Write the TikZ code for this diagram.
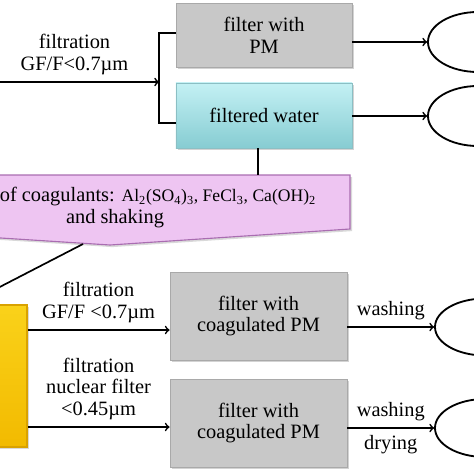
\documentclass[tikz,border=0pt]{standalone}
\usepackage{fontspec}
\setmainfont{Liberation Serif}
\usetikzlibrary{shapes.geometric,shadows}
\definecolor{pmgray}{HTML}{C8C8C8}
\definecolor{pmedge}{HTML}{A9A9A9}
\definecolor{watertop}{HTML}{C4F1F4}
\definecolor{waterbot}{HTML}{86CCD2}
\definecolor{wateredge}{HTML}{8BBFC4}
\definecolor{coagfill}{HTML}{EEC5F2}
\definecolor{coagedge}{HTML}{A96DB1}
\definecolor{goldtop}{HTML}{FAD21A}
\definecolor{goldbot}{HTML}{F2BA00}
\definecolor{goldedge}{HTML}{D9A200}
\newcommand{\chemfont}{\fontsize{12.5}{15}\selectfont}
\begin{document}
\begin{tikzpicture}[x=0.025cm, y=-0.025cm, line width=1.2pt,
    every node/.style={font=\fontsize{14.5}{15.5}\selectfont, align=center},
    pmbox/.style={draw=pmedge, line width=0.6pt, fill=pmgray, inner sep=0pt,
      minimum width=4.4cm, drop shadow={opacity=0.35, shadow xshift=1.5pt, shadow yshift=-1.5pt}},
    result/.style={ellipse, draw, line width=1.3pt, minimum width=2.5cm, inner sep=0pt}]
    \useasboundingbox (0,0) rectangle (474,474);
    \clip (0,0) rectangle (474,474);

    % first filtration: filter and filtered water
    \node[pmbox, minimum height=1.6cm] (pm) at (264,35) {filter with\\PM};
    \node[pmbox, minimum height=1.625cm, draw=wateredge, top color=watertop, bottom color=waterbot] (water) at (264,115.5) {filtered water};
    \node[result, minimum height=1.5cm] (ell1) at (478,42) {};
    \node[result, minimum height=1.5cm] (ell2) at (478,116) {};

    \coordinate (sample) at (-10,82);
    \coordinate (split) at (159,82);
    \draw[->] (sample) -- (split) node[midway, above=1pt] {filtration\\GF/F<0.7µm};
    \draw (pm.west |- 0,33) -- (159,33) -- (159,123) -- (water.west |- 0,123);
    \draw[->] (pm.east |- ell1.west) -- (ell1.west);
    \draw[->] (water.east |- ell2.west) -- (ell2.west);

    % coagulation
    \draw[draw=coagedge, line width=0.8pt, fill=coagfill,
      drop shadow={opacity=0.3, shadow xshift=1.5pt, shadow yshift=-1.5pt}]
      (-140,175) -- (350,175) -- (350,229) -- (110,245) -- (-140,229) -- cycle;
    \node[anchor=west, inner sep=0pt] (coag) at (-1,197)
      {of coagulants: {\chemfont Al\textsubscript{2}(SO\textsubscript{4})\textsubscript{3}, FeCl\textsubscript{3}, Ca(OH)\textsubscript{2}}};
    \node[inner sep=0pt] (shake) at (115,219) {and shaking};
    \coordinate (coagtop) at (258,175);
    \coordinate (coagtip) at (83,244);
    \draw (water.south -| coagtop) -- (coagtop);

    % coagulated sample and second filtration
    \node[draw=goldedge, line width=0.8pt, top color=goldtop, bottom color=goldbot,
      minimum width=3.05cm, minimum height=3.55cm, inner sep=0pt,
      drop shadow={opacity=0.3, shadow xshift=1.5pt, shadow yshift=-1.5pt}] (gold) at (-34,376) {};
    \draw (coagtip) -- (gold.north);

    \node[pmbox, minimum width=4.425cm, minimum height=2.2cm] (coagpm1) at (258.5,316) {filter with\\coagulated PM};
    \node[pmbox, minimum width=4.425cm, minimum height=2.2cm] (coagpm2) at (258.5,423) {filter with\\coagulated PM};
    \node[result, minimum height=1.425cm] (ell3) at (485,327) {};
    \node[result, minimum height=1.45cm] (ell4) at (485,428) {};

    \draw[->] (gold.east |- 0,330) -- (coagpm1.west |- 0,330) node[midway, above=1pt] {filtration\\GF/F <0.7µm};
    \draw[->] (gold.east |- 0,427) -- (coagpm2.west |- 0,427) node[midway, above=1pt] {filtration\\nuclear filter\\<0.45µm};
    \draw[->] (coagpm1.east |- ell3.west) -- (ell3.west) node[midway, above=1pt] {washing};
    \draw[->] (coagpm2.east |- ell4.west) -- (ell4.west)
      node[midway, above=1pt] {washing} node[midway, below=1pt] {drying};
\end{tikzpicture}
\end{document}
